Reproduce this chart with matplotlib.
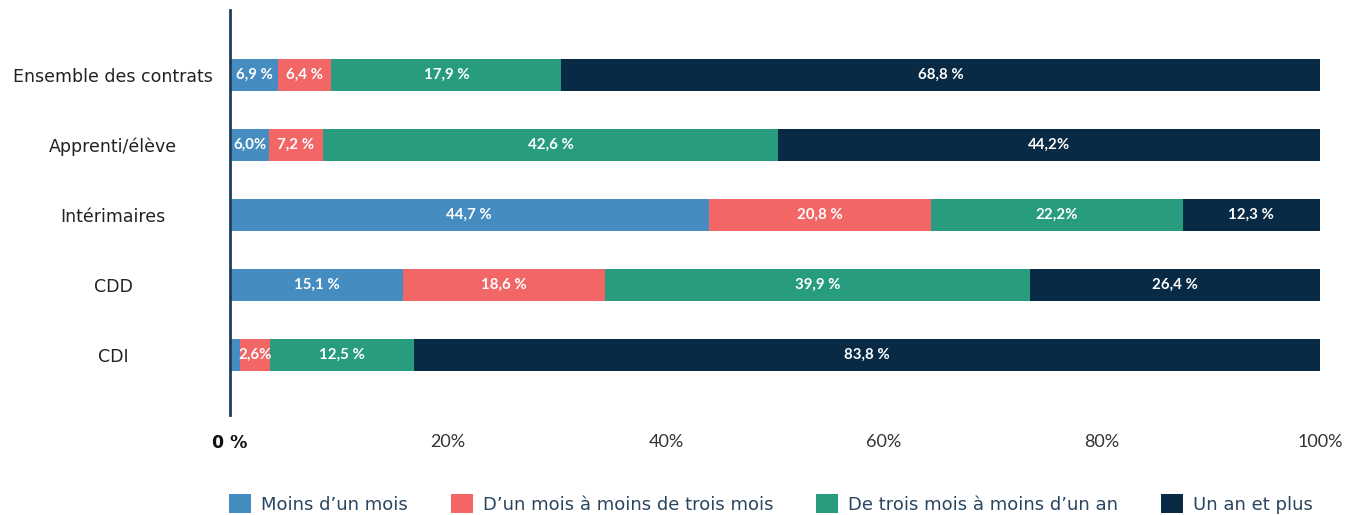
import matplotlib.pyplot as plt
import numpy as np

plt.rcParams["font.family"] = ["Lato", "DejaVu Sans"]

# catégories de contrat (de haut en bas)
categories = ["Ensemble des contrats", "Apprenti/élève", "Intérimaires", "CDD", "CDI"]
series = ["Moins d’un mois", "D’un mois à moins de trois mois",
          "De trois mois à moins d’un an", "Un an et plus"]
colors = ["#458cc0", "#f26666", "#289c7e", "#082a45"]

# longueurs des segments telles que dessinées (en %)
moins_1m = [4.4, 3.6, 43.9, 15.9, 0.9]
de_1_3m = [4.9, 4.9, 20.4, 18.5, 2.8]
de_3m_1an = [21.1, 41.8, 23.1, 39.0, 13.2]
un_an_plus = [69.6, 49.7, 12.6, 26.6, 83.1]

# étiquettes affichées dans les barres
lab_moins_1m = ["6,9 %", "6,0%", "44,7 %", "15,1 %", ""]
lab_de_1_3m = ["6,4 %", "7,2 %", "20,8 %", "18,6 %", "2,6%"]
lab_de_3m_1an = ["17,9 %", "42,6 %", "22,2%", "39,9 %", "12,5 %"]
lab_un_an_plus = ["68,8 %", "44,2%", "12,3 %", "26,4 %", "83,8 %"]

xticks = [0, 20, 40, 60, 80, 100]
xticklabels = ["0 %", "20%", "40%", "60%", "80%", "100%"]

W, H = 1362, 515
fig = plt.figure(figsize=(W / 100, H / 100), dpi=100)
ax = fig.add_axes([230 / W, 1 - 415 / H, 1090 / W, 405 / H])

y = np.arange(len(categories))
vals = [moins_1m, de_1_3m, de_3m_1an, un_an_plus]
labs = [lab_moins_1m, lab_de_1_3m, lab_de_3m_1an, lab_un_an_plus]
left = np.zeros(len(categories))
for v, lb, c, name in zip(vals, labs, colors, series):
    v = np.array(v)
    ax.barh(y, v, left=left, height=0.46, color=c, label=name, edgecolor="none")
    for yi, (l, w, t) in enumerate(zip(left, v, lb)):
        if t:
            ax.text(l + w / 2, yi, t, ha="center", va="center", color="white",
                    fontsize=10.8, fontweight="bold")
    left += v

ax.set_xlim(0, 100)
ax.set_ylim(len(categories) - 1 + 0.857, -0.929)
ax.set_yticks(y)
ax.set_yticklabels(categories, fontsize=12.5, color="#222222",
                   family="DejaVu Sans", ha="center")
ax.set_xticks(xticks)
ax.set_xticklabels(xticklabels, fontsize=13, color="#333333")
ax.tick_params(axis="both", length=0)
ax.tick_params(axis="x", pad=14)
ax.tick_params(axis="y", pad=84)
for t in ax.get_xticklabels():
    if t.get_text() == "0 %":
        t.set_family("DejaVu Sans")
        t.set_fontweight("bold")
        t.set_color("#111111")
        t.set_fontsize(12.5)

for s in ["top", "right", "bottom"]:
    ax.spines[s].set_visible(False)
ax.spines["left"].set_color("#1f3d5a")
ax.spines["left"].set_linewidth(2)

leg = fig.legend(loc="center", bbox_to_anchor=(771 / W, 1 - 504 / H), ncol=4,
                 frameon=False, prop={"family": "DejaVu Sans", "size": 13},
                 handlelength=1.2, handleheight=1.2,
                 handletextpad=0.55, columnspacing=2.4)
for t in leg.get_texts():
    t.set_color("#2a4560")

fig.savefig("out.png", dpi=100)
